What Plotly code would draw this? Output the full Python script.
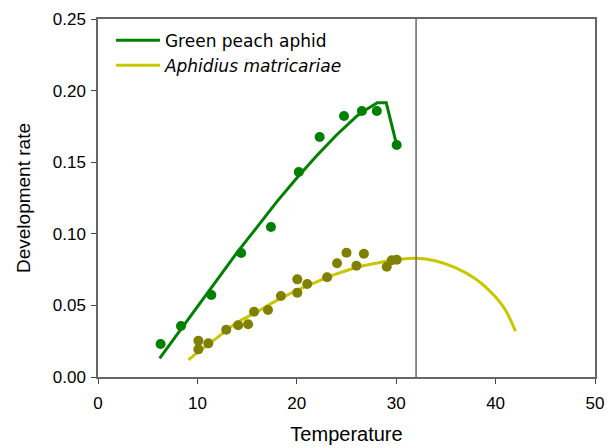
import plotly.graph_objects as go

# Observed data points
aphid_temp = [6.3, 8.35, 11.4, 14.4, 17.4, 20.2, 22.3, 24.75, 26.55, 28.05, 30.05]
aphid_rate = [0.023, 0.0356, 0.0573, 0.0866, 0.1047, 0.1432, 0.1676, 0.1823, 0.1858, 0.1858, 0.162]

para_temp = [10.1, 10.1, 11.1, 12.9, 14.1, 15.1, 15.7, 17.1, 18.4, 20.05, 20.05, 21.05,
             23.05, 24.05, 25.0, 26.0, 26.75, 29.05, 29.55, 30.05]
para_rate = [0.0253, 0.0193, 0.0235, 0.033, 0.0361, 0.0368, 0.0456, 0.0468, 0.0566, 0.0682,
             0.0589, 0.0649, 0.0696, 0.0794, 0.0868, 0.0777, 0.0861, 0.077, 0.0815, 0.0819]

# Fitted curves
aphid_fit_t = [6.2, 8, 10, 12, 14, 16, 18, 20, 22, 24, 26, 27, 28.1, 29.0, 30.05]
aphid_fit_r = [0.013, 0.030, 0.049, 0.068, 0.087, 0.1047, 0.1225, 0.139, 0.1545, 0.169,
               0.1820, 0.1868, 0.1915, 0.1915, 0.162]

para_fit_t = [9.1, 10, 12, 14, 16, 18, 20, 22, 24, 26, 28, 30, 32, 34, 36, 38, 39, 40, 41, 42]
para_fit_r = [0.012, 0.017, 0.0275, 0.038, 0.0455, 0.0535, 0.0605, 0.0665, 0.072, 0.0765,
              0.0795, 0.0818, 0.0829, 0.081, 0.0762, 0.0685, 0.0628, 0.0558, 0.0466, 0.032]

threshold_x = 32

GREEN = "#008000"
YELLOW = "#c8c800"
OLIVE = "#808000"

fig = go.Figure()
fig.add_trace(go.Scatter(x=aphid_fit_t, y=aphid_fit_r, mode="lines", name="Green peach aphid",
                         line=dict(color=GREEN, width=3)))
fig.add_trace(go.Scatter(x=para_fit_t, y=para_fit_r, mode="lines", name="<i>Aphidius matricariae</i>",
                         line=dict(color=YELLOW, width=3, shape="spline")))
fig.add_trace(go.Scatter(x=aphid_temp, y=aphid_rate, mode="markers", showlegend=False,
                         marker=dict(color=GREEN, size=10)))
fig.add_trace(go.Scatter(x=para_temp, y=para_rate, mode="markers", showlegend=False,
                         marker=dict(color=OLIVE, size=10)))

fig.add_shape(type="line", x0=threshold_x, x1=threshold_x, y0=0, y1=1, xref="x", yref="paper",
              line=dict(color="#666666", width=1.5))

axis_font = dict(family="Liberation Sans, Arial, sans-serif", size=17, color="black")
fig.update_layout(
    width=616, height=448,
    margin=dict(l=90, r=29, t=11, b=79, autoexpand=False),
    plot_bgcolor="white", paper_bgcolor="white",
    font=axis_font,
    showlegend=True,
    legend=dict(x=0.026, y=0.99, xanchor="left", yanchor="top", bgcolor="rgba(0,0,0,0)",
                font=dict(family="DejaVu Sans, sans-serif", size=17, color="black"),
                tracegroupgap=0, itemwidth=44),
    xaxis=dict(range=[0, 50], dtick=10, tick0=0, showgrid=False, zeroline=False, automargin=False,
               showline=True, linecolor="#666666", linewidth=1.5, mirror=True,
               ticks="outside", ticklen=5, tickcolor="#444444", ticklabelstandoff=5,
               title=dict(text="Temperature", font=dict(size=20), standoff=15)),
    yaxis=dict(range=[0, 0.25], dtick=0.05, tick0=0, tickformat=".2f", showgrid=False, zeroline=False,
               automargin=False,
               showline=True, linecolor="#666666", linewidth=1.5, mirror=True,
               ticks="outside", ticklen=5, tickcolor="#444444", ticklabelstandoff=2,
               title=dict(text="Development rate", font=dict(size=19), standoff=17)),
)

fig.write_html("out.html")
